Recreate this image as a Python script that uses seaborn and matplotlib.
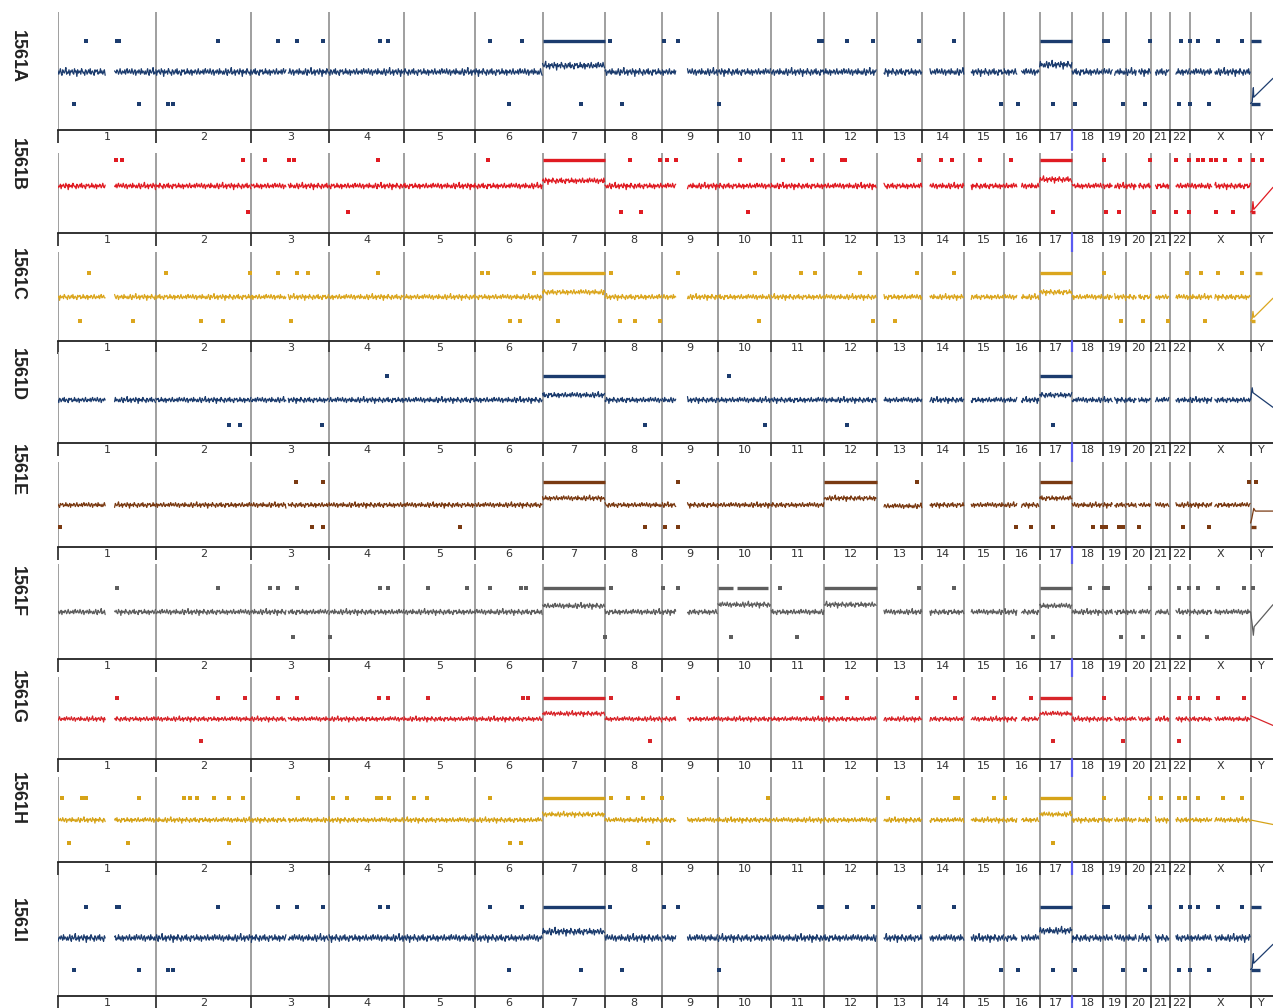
import numpy as np
import pandas as pd
import matplotlib
matplotlib.use("Agg")
import matplotlib.pyplot as plt
import seaborn as sns
from matplotlib.transforms import blended_transform_factory

# chromosomes and their sizes (Mb)
chroms = [str(i) for i in range(1, 23)] + ["X", "Y"]
chrom_mb = [249, 243, 198, 191, 181, 171, 159, 146, 141, 136, 135, 134,
            115, 107, 102, 90, 83, 78, 59, 63, 48, 51, 155, 57]
# regions without probes (Mb inside chromosome)
gaps = {"1": (121, 143), "3": (90, 93), "9": (36, 62), "13": (0, 16), "14": (0, 18),
        "15": (0, 16), "16": (34, 42), "19": (25, 29), "20": (27, 30),
        "21": (0, 10), "22": (0, 14), "X": (58, 62)}

# hand read jitter of the probe trace (units of 0.03 log ratio)
wiggle = [1, -2, 0, 3, -1, -3, 2, 0, -1, 1, 4, -2, 0, -1, 2, -3, 1, 0, 2, -1,
          -2, 3, 0, 1, -4, 2, -1, 0, 1, -2, 3, 1, -1, 0, -3, 2, 1, -2, 0, 2,
          -1, 3, -2, 0, 1, -1, -3, 2, 0, 1, 2, -2, 0, -1, 3, -1, 1, -2, 0, 2,
          -3, 1, 0, -1, 2, 1, -2, 0, 3, -1, -2, 1, 0, -1, 2, -2, 1, 3, -1, 0,
          2, -1, -1, 3, 0, -2, 1, 2, -3, 0, 1, -1, 2, 0, -2, 3, -1, 1, 0, -2]

samples = ["1561A", "1561B", "1561C", "1561D", "1561E", "1561F", "1561G", "1561H", "1561I"]
colors = ["#1c3c6e", "#e01b22", "#dba61e", "#1c3c6e", "#7a3a12", "#5e5e5e", "#d8252a", "#d6a318", "#1c3c6e"]

# ---- 1561A (1561I is identical) ----
level_A = {"7": 0.2, "17": 0.23}
up_A = [71, 150, 155, 407, 560, 609, 675, 820, 840, 1100, 1181, 1405, 1543, 1579, 1937, 1943,
        2009, 2075, 2190, 2281, 2661, 2671, 2780, 2857, 2880, 2902, 2951, 3014]
down_A = [41, 206, 280, 293, 1148, 1332, 1436, 1683, 2401, 2442, 2531, 2589, 2709, 2765,
          2852, 2880, 2928]
barup_A = [("7", 0, 159), ("17", 0, 83), ("Y", 1, 26)]
bardown_A = [("Y", 1, 25)]
ypos_A = [0, 4, 7, 8, 57]
yval_A = [-1.0, -0.95, -0.5, -0.8, -0.2]

# ---- 1561B ----
level_B = {"7": 0.2, "17": 0.25}
up_B = [148, 163, 471, 527, 588, 601, 815, 1095, 1456, 1533, 1551, 1573, 1736, 1846, 1920, 1994,
        2004, 2192, 2246, 2276, 2347, 2426, 2661, 2780, 2844, 2877, 2900, 2915, 2933, 2948,
        2971, 3009, 3040, 3065]
down_B = [484, 738, 1433, 1484, 1757, 2531, 2666, 2701, 2788, 2846, 2877, 2946, 2989]
barup_B = [("7", 0, 159), ("17", 0, 83)]
bardown_B = [("Y", 1, 10)]
ypos_B = [0, 4, 6, 8, 57]
yval_B = [-1.0, -0.95, -0.6, -0.9, -0.05]

# ---- 1561C ----
level_C = {"7": 0.2, "17": 0.2}
up_C = [79, 275, 489, 560, 609, 637, 815, 1080, 1095, 1212, 1408, 1579, 1775, 1892, 1927, 2042,
        2187, 2279, 2663, 2874, 2908, 2951, 3014]
down_C = [56, 191, 364, 420, 593, 1151, 1176, 1273, 1431, 1469, 1533, 1785, 2075, 2131, 2704,
          2762, 2824, 2920]
barup_C = [("7", 0, 159), ("17", 0, 83), ("Y", 10, 30)]
bardown_C = [("Y", 1, 10)]
ypos_C = [0, 4, 6, 8, 57]
yval_C = [-1.0, -0.9, -0.6, -0.85, -0.05]

# ---- 1561D ----
level_D = {"7": 0.2, "17": 0.2}
up_D = [838, 1708]
down_D = [435, 463, 672, 1494, 1800, 2009, 2531]
barup_D = [("7", 0, 159), ("17", 0, 83)]
bardown_D = []
ypos_D = [0, 4, 6, 57]
yval_D = [0.0, 0.5, 0.3, -0.3]

# ---- 1561E ----
level_E = {"7": 0.3, "12": 0.3, "13": -0.05, "17": 0.3}
up_E = [606, 675, 1579, 2187, 3030, 3050]
down_E = [5, 647, 675, 1023, 1494, 1545, 1579, 2437, 2475, 2531, 2633, 2658, 2666, 2699, 2709,
          2752, 2864, 2928]
barup_E = [("7", 0, 159), ("12", 0, 134), ("17", 0, 83)]
bardown_E = [("Y", 1, 15)]
ypos_E = [0, 3, 8, 12, 57]
yval_E = [-0.8, -0.6, -0.15, -0.27, -0.27]

# ---- 1561F ----
level_F = {"7": 0.25, "10": 0.3, "12": 0.3, "17": 0.25}
up_F = [150, 407, 540, 560, 609, 820, 840, 942, 1041, 1100, 1179, 1192, 1408, 1540, 1579, 1838,
        2190, 2279, 2627, 2663, 2671, 2780, 2852, 2877, 2902, 2951, 3017, 3040]
down_F = [598, 692, 1393, 1713, 1881, 2480, 2531, 2704, 2762, 2852, 2923]
barup_F = [("7", 0, 159), ("10", 0, 38), ("10", 50, 127), ("12", 0, 134), ("17", 0, 83)]
bardown_F = []
ypos_F = [0, 4, 7, 9, 57]
yval_F = [0.0, -0.5, -0.95, -0.6, 0.3]

# ---- 1561G ----
level_G = {"7": 0.25, "17": 0.25}
up_G = [150, 407, 476, 560, 609, 817, 840, 942, 1184, 1197, 1408, 1579, 1945, 2009, 2187, 2284,
        2381, 2475, 2663, 2852, 2880, 2902, 2951, 3017]
down_G = [364, 1507, 2531, 2709, 2852]
barup_G = [("7", 0, 159), ("17", 0, 83)]
bardown_G = []
ypos_G = [0, 57]
yval_G = [0.15, -0.3]

# ---- 1561H ----
level_H = {"7": 0.25, "17": 0.25}
up_H = [10, 61, 71, 206, 321, 336, 354, 397, 435, 471, 611, 700, 736, 812, 822, 843, 906, 939,
        1100, 1408, 1451, 1489, 1538, 1808, 2111, 2284, 2291, 2381, 2411, 2663, 2780, 2806,
        2852, 2867, 2902, 2966, 3014]
down_H = [28, 178, 435, 1151, 1179, 1502, 2531]
barup_H = [("7", 0, 159), ("17", 0, 83)]
bardown_H = []
ypos_H = [0, 57]
yval_H = [0.0, -0.2]

# panel layout in pixels: top of panel, axis line, trace baseline, px per unit, label centre
panel_px = [(12, 130, 72, 31.5, 57), (153, 233, 186, 26, 165), (252, 341, 297, 24, 275),
            (352, 443, 400, 24.5, 375), (462, 547, 505, 22.5, 470), (564, 659, 612, 24.5, 592),
            (677, 759, 719, 21.5, 697), (777, 862, 820, 22.5, 798), (875, 996, 938, 31.5, 920)]

sample_data = [
    (level_A, up_A, down_A, barup_A, bardown_A, ypos_A, yval_A),
    (level_B, up_B, down_B, barup_B, bardown_B, ypos_B, yval_B),
    (level_C, up_C, down_C, barup_C, bardown_C, ypos_C, yval_C),
    (level_D, up_D, down_D, barup_D, bardown_D, ypos_D, yval_D),
    (level_E, up_E, down_E, barup_E, bardown_E, ypos_E, yval_E),
    (level_F, up_F, down_F, barup_F, bardown_F, ypos_F, yval_F),
    (level_G, up_G, down_G, barup_G, bardown_G, ypos_G, yval_G),
    (level_H, up_H, down_H, barup_H, bardown_H, ypos_H, yval_H),
    (level_A, up_A, down_A, barup_A, bardown_A, ypos_A, yval_A),
]

starts = np.concatenate([[0], np.cumsum(chrom_mb)[:-1]])
chr_start = dict(zip(chroms, starts))
genome = float(np.sum(chrom_mb))
centres = starts + np.array(chrom_mb) / 2.0


def build_trace(level, ypos, yval, offset, amp=0.035, step=2.0):
    rows = []
    k = offset
    seg = 0
    for c, size in zip(chroms[:-1], chrom_mb[:-1]):
        lvl = level.get(c, 0.0)
        g = gaps.get(c)
        after = False
        for p in np.arange(0, size, step):
            if g is not None and g[0] <= p <= g[1]:
                continue
            if g is not None and p > g[1] and not after:
                after = True
                seg += 1
            rows.append((chr_start[c] + p, lvl + amp * wiggle[k % len(wiggle)], seg))
            k += 1
        seg += 1
    for p, v in zip(ypos, yval):
        rows.append((chr_start["Y"] + p, v, seg))
    return pd.DataFrame(rows, columns=["pos", "val", "seg"])


sns.set_theme(style="white")
plt.rcParams["font.family"] = ["DejaVu Sans"]

W, H = 1273, 1008
fig = plt.figure(figsize=(W / 100, H / 100), dpi=100)
fig.patch.set_facecolor("white")

left_px = 58
for i, (name, col) in enumerate(zip(samples, colors)):
    top, axis_y, base, unit, lab_y = panel_px[i]
    level, ups, downs, bup, bdown, ypos, yval = sample_data[i]
    ax = fig.add_axes([left_px / W, 1 - axis_y / H, (W - left_px) / W, (axis_y - top) / H])
    ax.set_xlim(0, genome)
    ax.set_ylim((base - axis_y) / unit, (base - top) / unit)

    for b in starts:
        ax.axvline(b, color="#8f8f8f", lw=1.2, zorder=1)

    df = build_trace(level, ypos, yval, offset=11 * i)
    sns.lineplot(data=df, x="pos", y="val", units="seg", estimator=None, sort=False,
                 color=col, lw=0.9, ax=ax, legend=False, zorder=3)

    sns.scatterplot(x=ups, y=[1.0] * len(ups), marker="s", s=6, color=col, linewidth=0, ax=ax, zorder=4)
    sns.scatterplot(x=downs, y=[-1.0] * len(downs), marker="s", s=6, color=col, linewidth=0, ax=ax, zorder=4)
    for c, a, b in bup:
        ax.hlines(1.0, chr_start[c] + a, chr_start[c] + b, color=col, lw=2.4, zorder=4)
    for c, a, b in bdown:
        ax.hlines(-1.0, chr_start[c] + a, chr_start[c] + b, color=col, lw=2.4, zorder=4)

    for s in ["left", "right", "top"]:
        ax.spines[s].set_visible(False)
    ax.spines["bottom"].set_color("#222222")
    ax.spines["bottom"].set_linewidth(1.3)
    ax.set_yticks([])
    ax.set_xlabel("")
    ax.set_ylabel("")
    ax.set_xticks(starts)
    ax.set_xticklabels([])
    ax.set_xticks(centres, minor=True)
    ax.set_xticklabels(chroms, minor=True)
    ax.tick_params(axis="x", which="major", direction="out", length=9, width=1.2,
                   color="#222222", bottom=True)
    ax.tick_params(axis="x", which="minor", length=0, pad=1.5, labelsize=8, labelcolor="#333333")

    # blue marker between chromosomes 17 and 18 in the axis strip
    tr = blended_transform_factory(ax.transData, ax.transAxes)
    ax.plot([chr_start["18"], chr_start["18"]], [0, -20 / (axis_y - top)], transform=tr,
            color="#5a5af0", lw=1.6, clip_on=False, zorder=5)

    fig.text(17 / W, 1 - lab_y / H, name, rotation=270, ha="center", va="center",
             fontsize=13, fontweight="bold", family=["Liberation Sans", "DejaVu Sans"], color="#222222")

fig.savefig("out.png", dpi=100, facecolor="white")
